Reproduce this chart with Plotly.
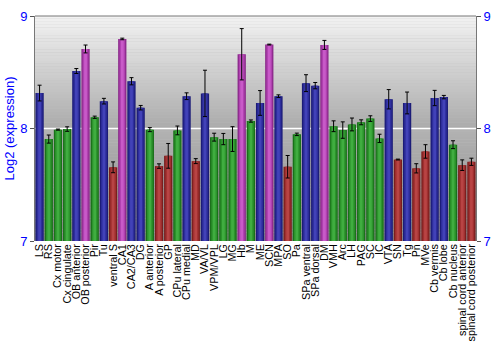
import plotly.graph_objects as go

categories = ["LS", "RS", "Cx motor", "Cx cingulate", "OB anterior", "OB posterior", "Pir", "Tu",
              "ventral S", "CA1", "CA2/CA3", "DG", "A anterior", "A posterior", "GP", "CPu lateral",
              "CPu medial", "MD", "VA/VL", "VPM/VPL", "LG", "MG", "Hb", "M", "ME", "SCN", "MPA", "SO",
              "Pa", "SPa ventral", "SPa dorsal", "DM", "VMH", "Arc", "LH", "PAG", "SC", "IC", "VTA",
              "SN", "Tg", "Pn", "MVe", "Cb vermis", "Cb lobe", "Cb nucleus",
              "spinal cord anterior", "spinal cord posterior"]

values = [8.315, 7.906, 7.99, 7.995, 8.511, 8.707, 8.10, 8.243,
          7.655, 8.796, 8.42, 8.185, 7.99, 7.666, 7.757, 7.983,
          8.287, 7.71, 8.312, 7.923, 7.906, 7.906, 8.66, 8.066, 8.227, 8.746, 8.287, 7.66,
          7.948, 8.403, 8.381, 8.743, 8.02, 7.986, 8.036, 8.055, 8.088, 7.912, 8.26,
          7.724, 8.227, 7.646, 7.796, 8.271, 8.279, 7.856,
          7.674, 7.704]

errors = [0.07, 0.036, 0.005, 0.02, 0.022, 0.035, 0.01, 0.025,
          0.048, 0.007, 0.032, 0.02, 0.018, 0.02, 0.11, 0.039,
          0.03, 0.022, 0.206, 0.035, 0.05, 0.11, 0.228, 0.01, 0.11, 0.004, 0.012, 0.1,
          0.011, 0.075, 0.028, 0.04, 0.048, 0.073, 0.057, 0.022, 0.025, 0.037, 0.086,
          0.004, 0.097, 0.041, 0.06, 0.068, 0.015, 0.035,
          0.047, 0.032]

groups = ["b", "g", "g", "g", "b", "m", "g", "b",
          "r", "m", "b", "b", "g", "r", "r", "g",
          "b", "r", "b", "g", "g", "g", "m", "g", "b", "m", "b", "r",
          "g", "b", "b", "m", "g", "g", "g", "g", "g", "g", "b",
          "r", "b", "r", "r", "b", "b", "g",
          "r", "r"]

tick_vals = [7, 8, 9]
tick_text = ["7", "8", "9"]

palette = {
    "b": ["#1c1c78", "#2e2e9c", "#4242b8"],
    "g": ["#1a701a", "#2c942c", "#40ad40"],
    "m": ["#8a2a8a", "#b040b0", "#c85ac8"],
    "r": ["#7a1e1e", "#a03030", "#b84444"],
}

x = list(range(len(categories)))
fig = go.Figure()

widths = [0.9, 0.62, 0.3]
for layer, w in enumerate(widths):
    cols = [palette[g][layer] for g in groups]
    kw = {}
    if layer == len(widths) - 1:
        kw["error_y"] = dict(type="data", array=errors, visible=True,
                             color="black", thickness=1, width=2)
    fig.add_trace(go.Bar(
        x=x, y=[v - 7 for v in values], base=7, width=w,
        marker=dict(color=cols, line=dict(width=0)),
        showlegend=False, hoverinfo="skip", **kw))

# invisible trace for right axis
fig.add_trace(go.Scatter(x=[0], y=[8], yaxis="y2", mode="markers",
                         marker=dict(opacity=0), showlegend=False, hoverinfo="skip"))

# gradient background bands
shapes = []
n = 40
def lerp(c1, c2, t):
    return int(round(c1 + (c2 - c1) * t))
for half, (ytop, ybot, ctop, cbot) in enumerate([(9, 8, 0xf3, 0xaa), (8, 7, 0xb2, 0x8c)]):
    for i in range(n):
        t = (i + 0.5) / n
        c = lerp(ctop, cbot, t)
        y0 = ytop - (ytop - ybot) * i / n
        y1 = ytop - (ytop - ybot) * (i + 1) / n
        shapes.append(dict(type="rect", xref="paper", yref="y", x0=0, x1=1,
                           y0=y1, y1=y0 + 0.001, fillcolor=f"rgb({c},{c},{c})",
                           line=dict(width=0), layer="below"))
# white gridline at 8
shapes.append(dict(type="line", xref="paper", yref="y", x0=0, x1=1, y0=8, y1=8,
                   line=dict(color="white", width=1.5), layer="below"))
# top border
shapes.append(dict(type="line", xref="paper", yref="paper", x0=0, x1=1, y0=1, y1=1,
                   line=dict(color="#777777", width=1)))

fig.update_layout(
    width=500, height=350,
    margin=dict(l=27, r=14, t=9, b=99),
    paper_bgcolor="white", plot_bgcolor="#c0c0c0",
    barmode="overlay", bargap=0.1,
    shapes=shapes,
    font=dict(family="Liberation Sans, Arial, sans-serif"),
    xaxis=dict(tickmode="array", tickvals=x, ticktext=categories, tickangle=-90,
               tickfont=dict(size=10.8, color="black"), range=[-0.5, len(categories) - 0.5],
               showgrid=False, zeroline=False, showline=False, ticks=""),
    yaxis=dict(range=[7, 9], tickmode="array", tickvals=tick_vals, ticktext=tick_text,
               tickfont=dict(size=13, color="blue"), showgrid=False, zeroline=False,
               showline=True, linecolor="#777777", linewidth=1,
               ticks="outside", ticklen=4, tickcolor="#555555",
               title=dict(text="Log2 (expression)", font=dict(size=13, color="blue"), standoff=2)),
    yaxis2=dict(range=[7, 9], overlaying="y", side="right", tickmode="array",
                tickvals=tick_vals, ticktext=tick_text,
                tickfont=dict(size=13, color="blue"), showgrid=False, zeroline=False,
                showline=True, linecolor="#777777", linewidth=1,
                ticks="outside", ticklen=4, tickcolor="#555555"),
)

fig.write_html("out.html")
